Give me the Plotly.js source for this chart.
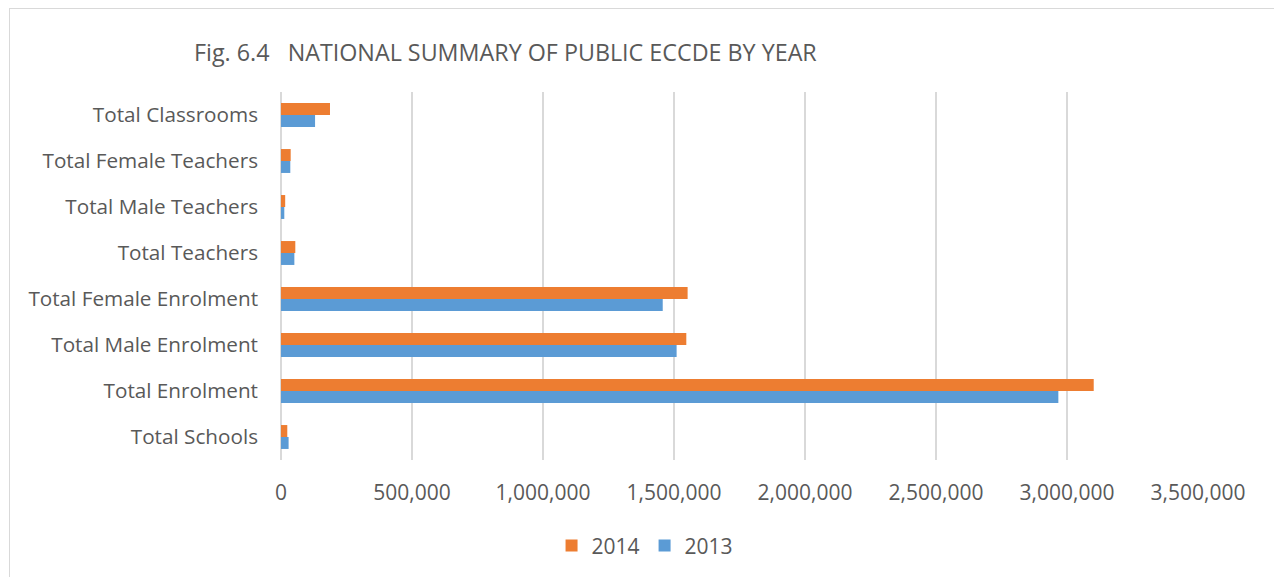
<!DOCTYPE html>
<html>
<head>
<meta charset="utf-8">
<script src="https://cdn.plot.ly/plotly-3.0.1.min.js"></script>
<style>
html,body{margin:0;padding:0;background:#fff;}
#frame{position:absolute;left:9px;top:8px;width:1280px;height:600px;border:1px solid #D9D9D9;pointer-events:none;}
#chart{position:absolute;left:0;top:0;width:1274px;height:577px;}
</style>
</head>
<body>
<div id="chart"></div>
<div id="frame"></div>
<script>
const categories = ["Total Schools","Total Enrolment","Total Male Enrolment","Total Female Enrolment","Total Teachers","Total Male Teachers","Total Female Teachers","Total Classrooms"];
const values2013 = [29000, 2967000, 1510000, 1457000, 51000, 12600, 35500, 130000];
const values2014 = [24000, 3102000, 1547000, 1552000, 54600, 16000, 37000, 187000];
const seriesNames = ["2013","2014"];
const titleText = "Fig. 6.4&nbsp;&nbsp;&nbsp;NATIONAL SUMMARY OF PUBLIC ECCDE BY YEAR";

const font = "'Open Sans', sans-serif";
const traces = [
  {type:"bar", orientation:"h", name:seriesNames[0], y:categories, x:values2013, marker:{color:"#5B9BD5"}},
  {type:"bar", orientation:"h", name:seriesNames[1], y:categories, x:values2014, marker:{color:"#ED7D31"}}
];
const layout = {
  width:1274, height:577,
  margin:{l:281, r:76, t:92, b:116},
  paper_bgcolor:"#fff", plot_bgcolor:"#fff",
  barmode:"group", bargap:0.48, bargroupgap:0,
  font:{family:font, color:"#595959", size:21},
  title:{text:titleText, x:194/1274, xanchor:"left", y:1-53/577, yanchor:"middle", font:{family:font, size:23.3, color:"#595959"}},
  xaxis:{range:[0,3500000], dtick:500000, tickformat:",d", showgrid:true, gridcolor:"#D9D9D9", gridwidth:1.5, zeroline:true, zerolinecolor:"#D9D9D9", zerolinewidth:1.5, showline:false, ticks:"", ticklabelstandoff:18, tickfont:{size:21}},
  yaxis:{type:"category", showgrid:false, showline:false, ticks:"", ticklabelstandoff:22, tickfont:{size:20.7}},
  separators:".,",
  showlegend:true,
  legend:{orientation:"h", x:0.397, xanchor:"center", y:-0.23, yanchor:"middle", traceorder:"reversed", font:{size:21}, itemwidth:30}
};
Plotly.newPlot("chart", traces, layout, {displayModeBar:false, staticPlot:true});
</script>
</body>
</html>
